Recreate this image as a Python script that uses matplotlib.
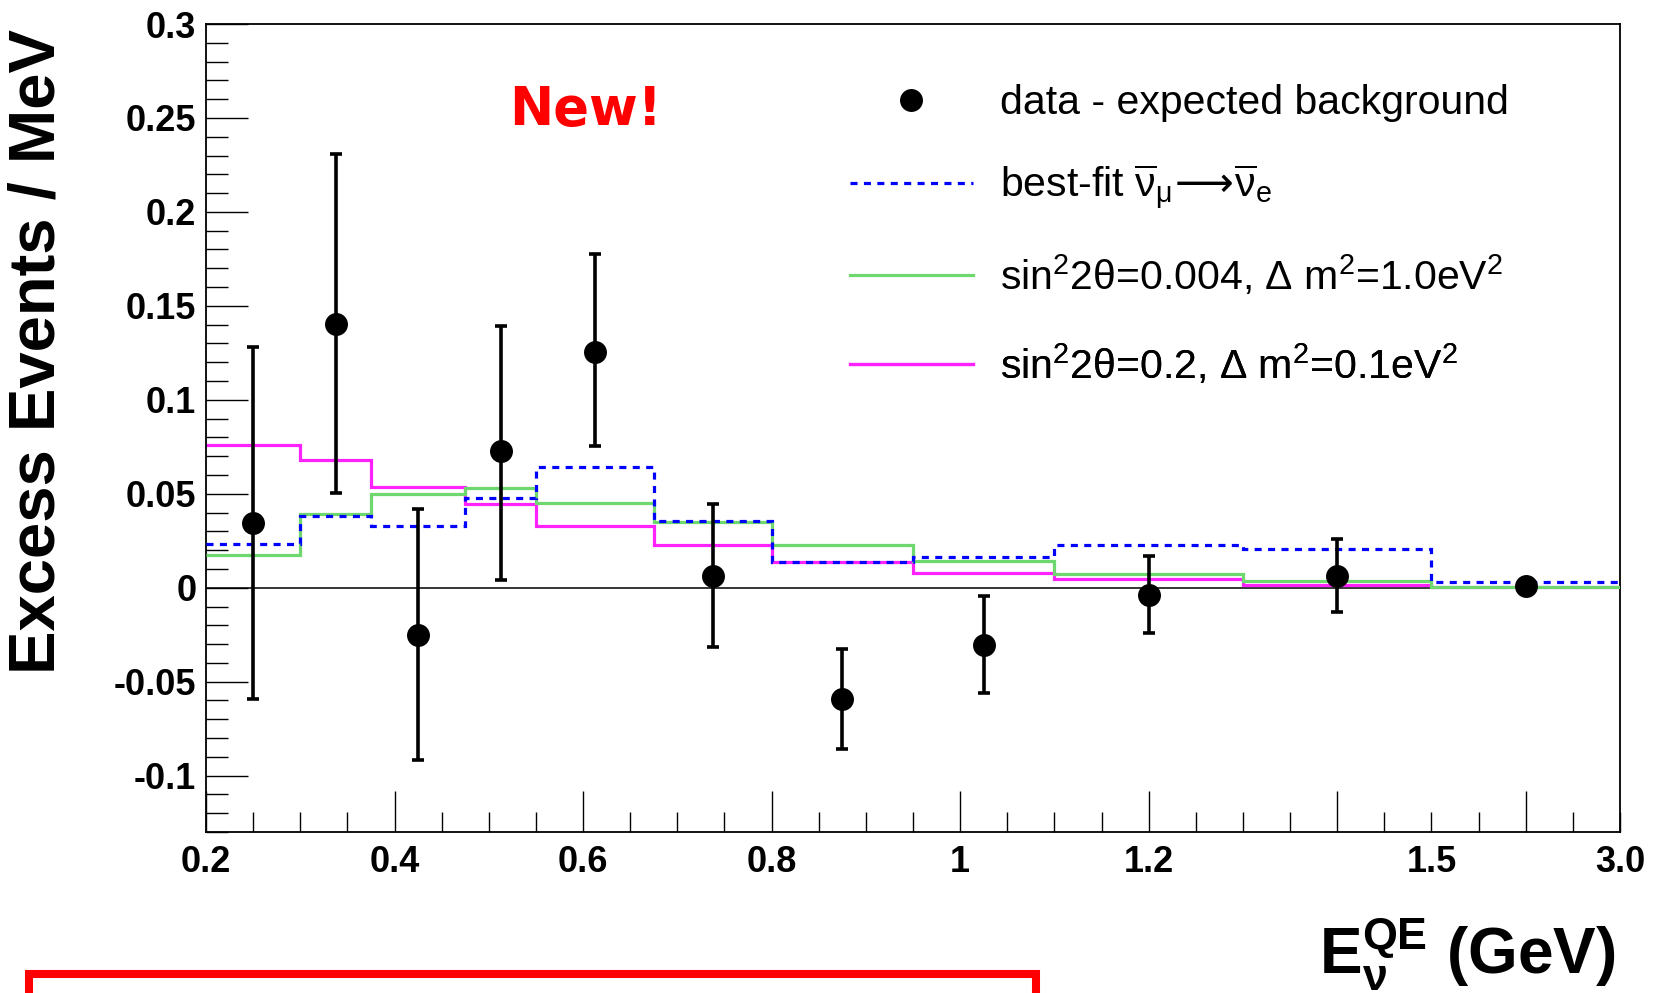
import numpy as np
import matplotlib
matplotlib.use("Agg")
import matplotlib.pyplot as plt
from matplotlib.ticker import FixedLocator, FixedFormatter
from matplotlib.lines import Line2D
from matplotlib.patches import Rectangle

plt.rcParams['font.family'] = ['Liberation Sans', 'DejaVu Sans']
plt.rcParams['mathtext.default'] = 'regular'

# ---------------- data ----------------
bin_edges = [0.2, 0.3, 0.375, 0.475, 0.55, 0.675, 0.8, 0.95, 1.1, 1.3, 1.5, 3.0]
data_excess = [0.0347, 0.1406, -0.0249, 0.0726, 0.1257, 0.0064, -0.0594, -0.0303, -0.0041, 0.0064, 0.0011]
data_err_lo = [0.0941, 0.0902, 0.0666, 0.0685, 0.0504, 0.0379, 0.0264, 0.0257, 0.0199, 0.0193, 0.0020]
data_err_hi = [0.0933, 0.0904, 0.0669, 0.0668, 0.0520, 0.0383, 0.0270, 0.0260, 0.0208, 0.0195, 0.0020]
best_fit = [0.0233, 0.0383, 0.0331, 0.0480, 0.0640, 0.0356, 0.0135, 0.0163, 0.0225, 0.0207, 0.0028]
green_model = [0.0174, 0.0393, 0.0498, 0.0530, 0.0450, 0.0352, 0.0225, 0.0144, 0.0074, 0.0036, 0.0005]
magenta_model = [0.0762, 0.0682, 0.0534, 0.0448, 0.0331, 0.0228, 0.0135, 0.0078, 0.0044, 0.0013, 0.0004]

x_major_ticks = [0.2, 0.4, 0.6, 0.8, 1.0, 1.2, 1.4, 2.25]
x_major_labels = ['0.2', '0.4', '0.6', '0.8', '1', '1.2', '', '']
x_minor_ticks = [0.25, 0.3, 0.35, 0.45, 0.5, 0.55, 0.65, 0.7, 0.75, 0.85, 0.9, 0.95,
                 1.05, 1.1, 1.15, 1.25, 1.3, 1.35, 1.45, 1.5, 1.875, 2.625, 3.0]
x_minor_labels = ['' if t not in (1.5, 3.0) else ('1.5' if t == 1.5 else '3.0') for t in x_minor_ticks]
y_major_ticks = [-0.1, -0.05, 0.0, 0.05, 0.1, 0.15, 0.2, 0.25, 0.3]
y_major_labels = ['-0.1', '-0.05', '0', '0.05', '0.1', '0.15', '0.2', '0.25', '0.3']

legend_labels = [
    'data - expected background',
    r'best-fit $\overline{\nu}_{\mu}\!\mathsf{\longrightarrow}\!\overline{\nu}_{e}$',
    r'sin$^{2}$2θ=0.004, Δ m$^{2}$=1.0eV$^{2}$',
    r'sin$^{2}$2θ=0.2, Δ m$^{2}$=0.1eV$^{2}$',
]

# axis compressed above 1.5 GeV (last bin 1.5-3.0 shown narrow)
def fwd(x):
    x = np.asarray(x, dtype=float)
    return np.where(x <= 1.5, x, 1.5 + (x - 1.5) * (0.2 / 1.5))

def inv(y):
    y = np.asarray(y, dtype=float)
    return np.where(y <= 1.5, y, 1.5 + (y - 1.5) * 7.5)

W, H = 1677, 993
fig = plt.figure(figsize=(W / 100, H / 100), dpi=100)
ax = fig.add_axes([206 / W, 1 - 832 / H, (1620 - 206) / W, (832 - 24) / H])
ax.set_xscale('function', functions=(fwd, inv))
ax.set_xlim(0.2, 3.0)
ax.set_ylim(-0.13, 0.3)

edges = np.array(bin_edges)
centers = 0.5 * (edges[:-1] + edges[1:])

ax.axhline(0, color='black', lw=1.1, zorder=1)
ax.stairs(magenta_model, edges, baseline=None, color='#ff22ff', lw=2.3, zorder=2)
ax.stairs(green_model, edges, baseline=None, color='#6ed86e', lw=2.3, zorder=3)
ax.stairs(best_fit, edges, baseline=None, color='#0000ff', lw=2.3,
          linestyle=(0, (2.2, 2.0)), zorder=4)
ax.errorbar(centers, data_excess, yerr=[data_err_lo, data_err_hi], fmt='o', color='black',
            ms=15.5, elinewidth=2.6, capsize=4, capthick=2.6, zorder=5)

# ticks
ax.xaxis.set_major_locator(FixedLocator(x_major_ticks))
ax.xaxis.set_major_formatter(FixedFormatter(x_major_labels))
ax.xaxis.set_minor_locator(FixedLocator(x_minor_ticks))
ax.xaxis.set_minor_formatter(FixedFormatter(x_minor_labels))
y_minor = [round(v, 2) for v in np.arange(-0.13, 0.3, 0.01) if round(v, 2) not in y_major_ticks]
ax.yaxis.set_major_locator(FixedLocator(y_major_ticks))
ax.yaxis.set_major_formatter(FixedFormatter(y_major_labels))
ax.yaxis.set_minor_locator(FixedLocator(y_minor))

ax.tick_params(axis='x', which='major', direction='in', length=29.5, width=1.0,
               labelsize=26, pad=9, top=False)
ax.tick_params(axis='x', which='minor', direction='in', length=14.4, width=1.0,
               labelsize=26, pad=9, top=False)
ax.tick_params(axis='y', which='major', direction='in', length=30, width=1.0,
               labelsize=26, pad=7, right=False)
ax.tick_params(axis='y', which='minor', direction='in', length=16, width=1.0, right=False)
for lbl in (ax.get_xticklabels(which='both') + ax.get_yticklabels(which='both')):
    lbl.set_fontweight('bold')
for s in ax.spines.values():
    s.set_linewidth(1.3)
    s.set_color('black')

# legend, one row each
handles = [
    Line2D([], [], marker='o', ls='none', color='black', ms=15.5),
    Line2D([], [], color='#0000ff', lw=2.3, linestyle=(0, (2.2, 2.0))),
    Line2D([], [], color='#6ed86e', lw=2.3),
    Line2D([], [], color='#ff22ff', lw=2.3),
]
row_y = [103, 187, 275, 364]
for h, lab, yy in zip(handles, legend_labels, row_y):
    leg = ax.legend([h], [lab], loc='center left', bbox_to_anchor=(850 / W, 1 - yy / H),
                    bbox_transform=fig.transFigure, frameon=False, borderpad=0,
                    borderaxespad=0, handlelength=3.0, handletextpad=0.66, numpoints=1,
                    prop={'family': ['Liberation Sans', 'DejaVu Sans'], 'size': 29.5,
                          'weight': 'normal'})
    ax.add_artist(leg)

# axis titles
fig.text(38 / W, 1 - 29 / H, 'Excess Events / MeV', rotation=90, ha='center', va='top',
         fontsize=47, fontweight='bold')
fig.text(1615 / W, 1 - 973 / H, r'$E_{\nu}^{QE}$ (GeV)', ha='right', va='baseline',
         fontsize=46, fontweight='bold')

# annotations
fig.text(585 / W, 1 - 110 / H, 'New!', color='red', fontsize=38, fontweight='bold',
         ha='center', va='center', family='DejaVu Sans')
fig.patches.append(Rectangle((29 / W, -0.1), (1036 - 29) / W, 0.1 + (1 - 974 / H),
                             transform=fig.transFigure, fill=False, edgecolor='red',
                             lw=5.8, clip_on=False))

fig.savefig('out.png', dpi=100)
